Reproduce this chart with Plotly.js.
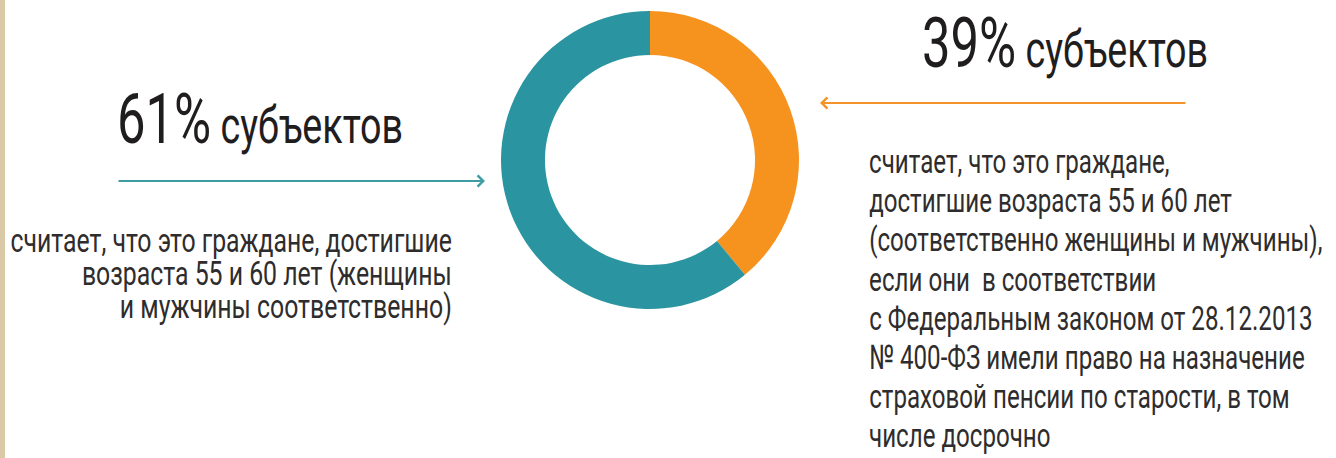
<!DOCTYPE html>
<html>
<head>
<meta charset="utf-8">
<script src="https://cdn.plot.ly/plotly-3.0.1.min.js"></script>
<style>html,body{margin:0;padding:0;background:#fff;}#chart{width:1336px;height:458px;}</style>
</head>
<body>
<div id="chart"></div>
<script>
// ---- data ----
const categories = ["Граждане 55/60 лет, имевшие право на страховую пенсию", "Граждане, достигшие 55 и 60 лет"];
const shares = [39, 61];
const sliceColors = ["#F6921E", "#2A95A0"];
const headlineLeft = ["61%", "субъектов"];
const headlineRight = ["39%", "субъектов"];
const bodyLeft = [
  "считает, что это граждане, достигшие",
  "возраста 55 и 60 лет (женщины",
  "и мужчины соответственно)"
];
const bodyRight = [
  "считает, что это граждане,",
  "достигшие возраста 55 и 60 лет",
  "(соответственно женщины и мужчины),",
  "если они  в соответствии",
  "с Федеральным законом от 28.12.2013",
  "№ 400-ФЗ имели право на назначение",
  "страховой пенсии по старости, в том",
  "числе досрочно"
];

// ---- layout helpers ----
const W = 1336, H = 458;
const px = v => v / W;
const py = v => 1 - v / H;
const FONT = "Roboto, 'Liberation Sans', sans-serif";
const TEXT = "#2e2c2c";

const annotations = [];
const squeeze = [];   // horizontal condensing per annotation (reference uses a condensed face)
function headline(parts, x, y) {
  annotations.push({
    xref: "paper", yref: "paper", x: px(x), y: py(y), xanchor: "left", yanchor: "middle",
    showarrow: false, align: "left",
    text: parts[0] + "<span style='font-size:52px'> " + parts[1] + "</span>",
    font: {family: FONT, size: 70, color: "#1f1d1e"}
  });
  squeeze.push({k: 0.725, origin: "left"});
}
headline(headlineLeft, 115, 119);
headline(headlineRight, 920, 43);

bodyLeft.forEach((t, i) => {
  annotations.push({
    xref: "paper", yref: "paper", x: px(454), y: py(240 + i * 33), xanchor: "right", yanchor: "middle",
    showarrow: false, text: t, font: {family: FONT, size: 34, color: TEXT}
  });
  squeeze.push({k: 0.73, origin: "right"});
});
bodyRight.forEach((t, i) => {
  annotations.push({
    xref: "paper", yref: "paper", x: px(867), y: py(161 + i * 39.2), xanchor: "left", yanchor: "middle",
    showarrow: false, text: t, font: {family: FONT, size: 34, color: TEXT}
  });
  squeeze.push({k: 0.71, origin: "left"});
});

// arrows
annotations.push({
  xref: "paper", yref: "paper", x: px(485), y: py(181), ax: -368, ay: 0, text: "",
  showarrow: true, arrowhead: 4, arrowsize: 1.1, arrowwidth: 2, arrowcolor: "#3F9CA3", standoff: 0
});
annotations.push({
  xref: "paper", yref: "paper", x: px(820), y: py(103), ax: 367, ay: 0, text: "",
  showarrow: true, arrowhead: 4, arrowsize: 1.1, arrowwidth: 2, arrowcolor: "#F4932A", standoff: 0
});

const data = [{
  type: "pie",
  labels: categories,
  values: shares,
  marker: {colors: sliceColors, line: {width: 0}},
  hole: 0.705,
  sort: false,
  direction: "clockwise",
  rotation: 0,
  textinfo: "none",
  hoverinfo: "label+percent",
  showlegend: false,
  domain: {x: [px(501), px(799)], y: [py(309), py(11)]}
}];

const layout = {
  width: W, height: H,
  margin: {l: 0, r: 0, t: 0, b: 0},
  paper_bgcolor: "#ffffff",
  showlegend: false,
  annotations: annotations,
  shapes: [{
    type: "rect", xref: "paper", yref: "paper", x0: 0, x1: px(5), y0: 0, y1: 1,
    fillcolor: "#D9C9A6", line: {width: 0}, layer: "below"
  }]
};

Plotly.newPlot("chart", data, layout, {displayModeBar: false, staticPlot: true}).then(gd => {
  gd.querySelectorAll("g.annotation").forEach(g => {
    const i = +g.getAttribute("data-index");
    const s = squeeze[i];
    if (!s) return;
    const t = g.querySelector("text.annotation-text");
    if (!t) return;
    t.style.transformBox = "fill-box";
    t.style.transformOrigin = s.origin + " center";
    t.style.transform = "scaleX(" + s.k + ")";
  });
});
</script>
</body>
</html>
